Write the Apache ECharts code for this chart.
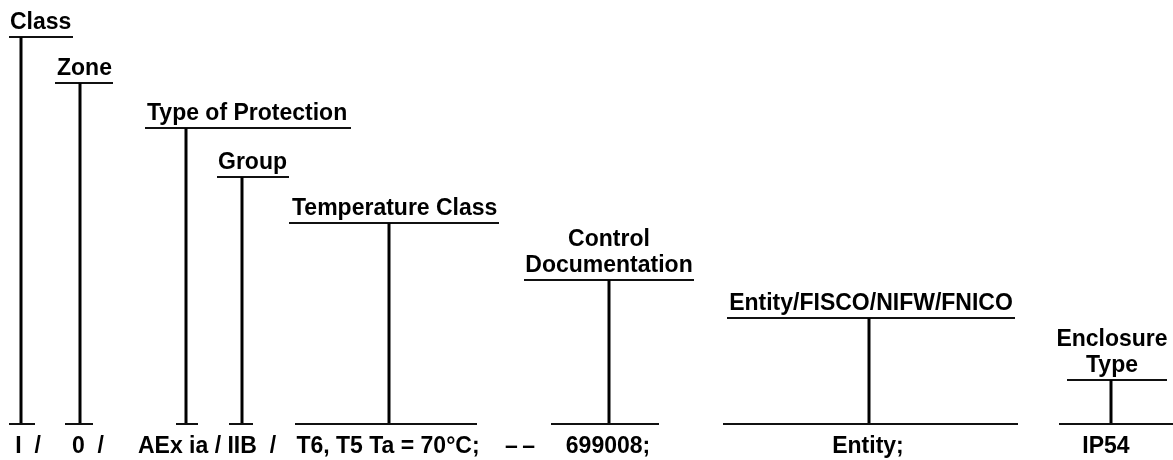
<!DOCTYPE html>
<html>
<head>
<meta charset="utf-8">
<script src="https://cdn.jsdelivr.net/npm/echarts@6/dist/echarts.min.js"></script>
<style>
html,body{margin:0;padding:0;background:#fff;}
#c{width:1173px;height:460px;}
</style>
</head>
<body>
<div id="c"></div>
<script>
// ---- data (diagram coordinates) ----
const titles = [['Class'], ['Zone'], ['Type of Protection'], ['Group'], ['Temperature Class'], ['Control', 'Documentation'], ['Entity/FISCO/NIFW/FNICO'], ['Enclosure', 'Type']];
const titleAlign = ['left', 'left', 'left', 'left', 'left', 'center', 'center', 'center'];
const titleX = [10, 57, 147, 218, 292, 609, 871, 1112];
const stemX = [21, 80, 186, 242, 389, 609, 869, 1111];
const headY = [37, 83, 128, 177, 223, 280, 318, 380];
const headFrom = [9, 55, 145, 217, 289, 524, 727, 1067];
const headTo = [73, 113, 351, 289, 499, 694, 1015, 1167];
const baseFrom = [9, 65, 176, 229, 295, 551, 723, 1059];
const baseTo = [35, 93, 198, 253, 477, 659, 1018, 1173];
const baseY = 424;
const codes = ['I  /', '0  /', 'AEx ia / IIB  /', 'T6, T5 Ta = 70°C;', '\u2013\u2009\u2013', '699008;', 'Entity;', 'IP54'];
const codeX = [28, 88, 207, 388, 520, 608, 868, 1106];
const codeY = 447;

const FONT = 'bold 23px "Liberation Sans", Arial, sans-serif';
const lineGap = 26;

const chart = echarts.init(document.getElementById('c'), null, {renderer: 'canvas'});

const markData = stemX.map((x, i) => [x, headY[i], headFrom[i], headTo[i], baseFrom[i], baseTo[i], titleX[i], i]);
const codeData = codes.map((t, i) => [codeX[i], codeY, i]);

chart.setOption({
  animation: false,
  backgroundColor: '#fff',
  grid: {left: 0, right: 0, top: 0, bottom: 0},
  xAxis: {type: 'value', min: 0, max: 1173, show: false},
  yAxis: {type: 'value', min: 0, max: 460, inverse: true, show: false},
  series: [
    {
      type: 'custom',
      coordinateSystem: 'cartesian2d',
      data: markData,
      renderItem: function (params, api) {
        const i = params.dataIndex;
        const sx = api.value(0), hy = api.value(1);
        const top = api.coord([sx, hy]);
        const bot = api.coord([sx, baseY]);
        const hL = api.coord([api.value(2), hy]);
        const hR = api.coord([api.value(3), hy]);
        const bL = api.coord([api.value(4), baseY]);
        const bR = api.coord([api.value(5), baseY]);
        const children = [
          {type: 'line', shape: {x1: hL[0], y1: hL[1], x2: hR[0], y2: hR[1]}, style: {stroke: '#111', lineWidth: 2}},
          {type: 'line', shape: {x1: top[0], y1: top[1], x2: bot[0], y2: bot[1]}, style: {stroke: '#000', lineWidth: 3}},
          {type: 'line', shape: {x1: bL[0], y1: bL[1], x2: bR[0], y2: bR[1]}, style: {stroke: '#111', lineWidth: 2}}
        ];
        const lines = titles[i];
        lines.forEach((t, k) => {
          const baseline = hy - 6 - (lines.length - 1 - k) * lineGap;
          const p = api.coord([api.value(6), baseline]);
          children.push({
            type: 'text',
            x: p[0], y: p[1] - 8,
            style: {text: t, font: FONT, fill: '#000', align: titleAlign[i], verticalAlign: 'middle'}
          });
        });
        return {type: 'group', children: children};
      }
    },
    {
      type: 'custom',
      coordinateSystem: 'cartesian2d',
      data: codeData,
      renderItem: function (params, api) {
        const i = params.dataIndex;
        const p = api.coord([api.value(0), api.value(1)]);
        return {
          type: 'text',
          x: p[0], y: p[1],
          style: {text: codes[i], font: FONT, fill: '#000', align: 'center', verticalAlign: 'middle'}
        };
      }
    }
  ]
});
</script>
</body>
</html>
